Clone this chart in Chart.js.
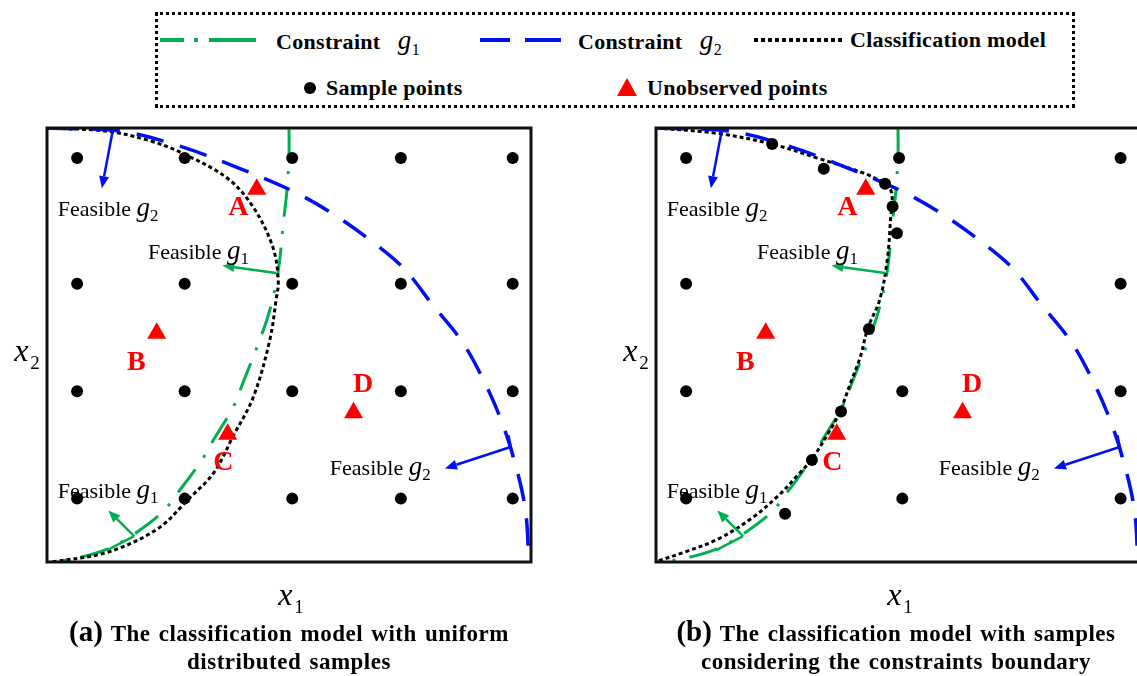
<!DOCTYPE html>
<html>
<head>
<meta charset="utf-8">
<script src="https://cdn.jsdelivr.net/npm/chart.js@4/dist/chart.umd.min.js"></script>
<style>
  html, body { margin: 0; padding: 0; background: #fff; }
  body { position: relative; width: 1137px; height: 676px; overflow: hidden;
         font-family: "Liberation Serif", "Times New Roman", serif; color: #000; }
  .abs { position: absolute; white-space: nowrap; }
  #legendBox { position: absolute; left: 155px; top: 12px; width: 914px; height: 90px;
               border: 3px dotted #000; }
  .lg { position: absolute; white-space: nowrap; font-weight: bold; font-size: 22px;
        letter-spacing: 0.3px; line-height: 1; transform: translateY(-50%); }
  .gi { font-style: italic; font-weight: normal; font-size: 27px; }
  .gs { font-weight: normal; font-size: 16px; position: relative; top: 6px; }
  canvas.panel { position: absolute; }
  .note { position: absolute; white-space: nowrap; font-size: 22px; line-height: 1;
          transform: translateY(-50%); }
  .note i { font-size: 27px; }
  .note sub { font-size: 17px; vertical-align: baseline; position: relative; top: 5px; }
  .tag { position: absolute; font-weight: bold; font-size: 28px; color: #f00; line-height: 1;
         transform: translate(-50%, -50%); }
  .axt { position: absolute; white-space: nowrap; line-height: 1; transform: translate(-50%, -50%); }
  .axt i { font-size: 32px; }
  .axt sub { font-size: 19px; vertical-align: baseline; position: relative; top: 8px; margin-left: 2px; }
  .cap { position: absolute; width: 620px; text-align: center; font-weight: bold; font-size: 23px;
         letter-spacing: 0.5px; word-spacing: 2px; line-height: 28px; }
  .cap .pl { font-size: 29px; letter-spacing: 0; }
</style>
</head>
<body>

<!-- legend -->
<div id="legendBox"></div>
<svg class="abs" style="left:0;top:0" width="1137" height="110">
  <g stroke="#00b050" stroke-width="4" fill="none">
    <line x1="160" y1="40" x2="184" y2="40"/>
    <line x1="194" y1="40" x2="198" y2="40"/>
    <line x1="209" y1="40" x2="256" y2="40"/>
  </g>
  <g stroke="#0010f0" stroke-width="4" fill="none">
    <line x1="480" y1="40" x2="510" y2="40"/>
    <line x1="525" y1="40" x2="561" y2="40"/>
  </g>
  <line x1="754" y1="40" x2="842" y2="40" stroke="#000" stroke-width="4" stroke-dasharray="4,3"/>
  <circle cx="310" cy="88" r="6" fill="#000"/>
  <polygon points="627,78 637,96 617,96" fill="#f00"/>
</svg>
<div class="lg" style="left:276px;top:40px">Constraint&nbsp;&nbsp;&nbsp;<span class="gi">g</span><span class="gs">1</span></div>
<div class="lg" style="left:578px;top:40px">Constraint&nbsp;&nbsp;&nbsp;<span class="gi">g</span><span class="gs">2</span></div>
<div class="lg" style="left:850px;top:40px">Classification model</div>
<div class="lg" style="left:326px;top:88px">Sample points</div>
<div class="lg" style="left:647px;top:88px">Unobserved points</div>

<canvas id="panelA" class="panel" width="506" height="456" style="left:36px;top:117px"></canvas>
<canvas id="panelB" class="panel" width="506" height="456" style="left:645px;top:117px"></canvas>
<div id="overlay" class="abs" style="left:0;top:0;width:1137px;height:676px"></div>

<!-- axis titles and captions -->
<div class="axt" style="left:27px;top:350px"><i>x</i><sub>2</sub></div>
<div class="axt" style="left:636px;top:350px"><i>x</i><sub>2</sub></div>
<div class="axt" style="left:291px;top:594px"><i>x</i><sub>1</sub></div>
<div class="axt" style="left:900px;top:594px"><i>x</i><sub>1</sub></div>
<div class="cap" style="left:-21px;top:617px"><span class="pl">(a)</span> The classification model with uniform<br>distributed samples</div>
<div class="cap" style="left:586px;top:617px"><span class="pl">(b)</span> The classification model with samples<br>considering the constraints boundary</div>

<script>
// ---- design space: x1 in [0, 4.5], x2 in [0, 4.04] ----
const x1Range = [0, 4.5];
const x2Range = [0, 4.04];

// constraint g1 boundary (dash-dot green)
const constraintG1 = [
  [2.25, 4.04], [2.25, 3.78], [2.23, 3.45], [2.20, 3.18], [2.15, 2.71], [2.07, 2.34],
  [1.96, 2.02], [1.83, 1.69], [1.73, 1.44], [1.55, 1.14], [1.44, 0.95], [1.22, 0.65],
  [1.07, 0.46], [0.78, 0.24], [0.56, 0.12], [0.25, 0.03], [0.02, 0.00]
];

// constraint g2 boundary (dashed blue)
const constraintG2 = [
  [0.00, 4.04], [0.69, 4.01], [1.27, 3.86], [1.80, 3.66], [2.29, 3.45], [2.66, 3.24],
  [3.00, 3.00], [3.32, 2.73], [3.58, 2.40], [3.86, 2.05], [4.06, 1.69], [4.23, 1.30],
  [4.36, 0.89], [4.45, 0.47], [4.48, 0.00]
];

// classification model fitted on the uniform design
const modelUniform = [
  [0.00, 4.04], [0.56, 4.01], [0.96, 3.92], [1.27, 3.80], [1.68, 3.57], [1.92, 3.30],
  [2.10, 2.93], [2.15, 2.62], [2.13, 2.44], [2.07, 2.06], [1.92, 1.54], [1.73, 1.17],
  [1.55, 0.83], [1.31, 0.58], [1.03, 0.31], [0.56, 0.09], [0.04, 0.00]
];

// classification model fitted on the boundary-aware design
const modelBoundary = [
  [0.00, 4.04], [0.57, 3.99], [1.08, 3.89], [1.50, 3.76], [1.93, 3.62], [2.11, 3.53],
  [2.19, 3.44], [2.18, 3.18], [2.15, 2.81], [2.08, 2.44], [1.97, 2.18], [1.90, 1.91],
  [1.81, 1.67], [1.71, 1.40], [1.62, 1.23], [1.45, 0.96], [1.31, 0.80], [1.13, 0.61],
  [0.88, 0.40], [0.57, 0.21], [0.26, 0.09], [0.02, 0.01]
];

// sample points
const samplesUniform = [
  [0.28, 3.76], [1.28, 3.76], [2.28, 3.76], [3.29, 3.76], [4.33, 3.76],
  [0.28, 2.59], [1.28, 2.59], [2.28, 2.59], [3.29, 2.59], [4.33, 2.59],
  [0.28, 1.59], [1.28, 1.59], [2.28, 1.59], [3.29, 1.59], [4.33, 1.59],
  [0.28, 0.59], [1.28, 0.59], [2.28, 0.59], [3.29, 0.59], [4.33, 0.59]
];
const samplesBoundary = [
  [0.28, 3.76], [2.26, 3.76], [4.32, 3.76],
  [0.28, 2.59], [4.32, 2.59],
  [0.28, 1.59], [2.29, 1.59], [4.32, 1.59],
  [0.28, 0.59], [2.29, 0.59], [4.32, 0.59],
  [1.08, 3.89], [1.56, 3.66], [2.13, 3.52], [2.20, 3.31], [2.24, 3.06],
  [1.98, 2.17], [1.72, 1.40], [1.45, 0.95], [1.20, 0.45]
];

// unobserved points and their names
const unobserved = [[1.95, 3.47], [1.02, 2.13], [1.68, 1.19], [2.85, 1.39]];
const unobservedNames = ['A', 'B', 'C', 'D'];
const nameSpots = [[1.78, 3.31], [0.83, 1.87], [1.64, 0.94], [2.94, 1.67]];

// "Feasible g" notes: constraint index and left-middle anchor
const feasibleNotes = [
  { g: '2', at: [0.10, 3.30] },
  { g: '1', at: [0.94, 2.90] },
  { g: '1', at: [0.10, 0.68] },
  { g: '2', at: [2.63, 0.89] }
];

// feasible-direction arrows: base tick, arrow from -> to
const feasibleArrows = [
  { color: '#0010f0', tick: null, from: [0.61, 4.01], to: [0.51, 3.48] },
  { color: '#00b050', tick: null, from: [2.13, 2.69], to: [1.63, 2.76] },
  { color: '#00b050', tick: [[0.56, 0.11], [0.81, 0.24]], from: [0.81, 0.24], to: [0.57, 0.48] },
  { color: '#0010f0', tick: [[4.29, 1.18], [4.33, 0.98]], from: [4.31, 1.07], to: [3.70, 0.87] }
];

const COLORS = { g1: '#00b050', g2: '#0010f0', model: '#000', sample: '#000', unobs: '#ff0000' };

const toXY = arr => arr.map(p => ({ x: p[0], y: p[1] }));

// frame and arrows, drawn in data space through the chart scales
const annotate = {
  id: 'annotate',
  afterDatasetsDraw(chart) {
    const { ctx, scales: { x, y } } = chart;
    const P = p => [x.getPixelForValue(p[0]), y.getPixelForValue(p[1])];
    ctx.save();
    ctx.lineCap = 'butt';
    feasibleArrows.forEach(ar => {
      ctx.strokeStyle = ar.color; ctx.fillStyle = ar.color; ctx.lineWidth = 2.5;
      if (ar.tick) {
        const [t0, t1] = ar.tick.map(P);
        ctx.beginPath(); ctx.moveTo(t0[0], t0[1]); ctx.lineTo(t1[0], t1[1]); ctx.stroke();
      }
      const [f, t] = [P(ar.from), P(ar.to)];
      const ang = Math.atan2(t[1] - f[1], t[0] - f[0]);
      const hl = 12, hw = 5;
      const bx = t[0] - Math.cos(ang) * hl, by = t[1] - Math.sin(ang) * hl;
      ctx.beginPath(); ctx.moveTo(f[0], f[1]); ctx.lineTo(bx, by); ctx.stroke();
      ctx.beginPath();
      ctx.moveTo(t[0], t[1]);
      ctx.lineTo(bx + Math.sin(ang) * hw, by - Math.cos(ang) * hw);
      ctx.lineTo(bx - Math.sin(ang) * hw, by + Math.cos(ang) * hw);
      ctx.closePath(); ctx.fill();
    });
    ctx.restore();
  },
  afterDraw(chart) {
    const { ctx, chartArea: a } = chart;
    ctx.save();
    ctx.strokeStyle = '#111'; ctx.lineWidth = 3;
    ctx.strokeRect(a.left, a.top, a.right - a.left, a.bottom - a.top);
    ctx.restore();
  }
};

function buildPanel(id, model, samples) {
  const lineDs = (label, data, color, dash, width) => ({
    label, data: toXY(data), showLine: true, borderColor: color, borderWidth: width,
    borderDash: dash, pointRadius: 0, tension: 0.35, fill: false, borderCapStyle: 'butt'
  });
  return new Chart(document.getElementById(id), {
    type: 'scatter',
    data: {
      datasets: [
        { label: 'Unobserved points', data: toXY(unobserved), pointStyle: 'triangle',
          pointRadius: 11, backgroundColor: COLORS.unobs, borderWidth: 0 },
        { label: 'Sample points', data: toXY(samples), pointStyle: 'circle',
          pointRadius: 6, backgroundColor: COLORS.sample, borderWidth: 0 },
        lineDs('Constraint g2', constraintG2, COLORS.g2, [28, 17], 3.5),
        lineDs('Classification model', model, COLORS.model, [4, 3], 3),
        lineDs('Constraint g1', constraintG1, COLORS.g1, [29, 14, 3, 14], 3)
      ]
    },
    options: {
      responsive: false, animation: false, devicePixelRatio: 1,
      layout: { padding: 10 },
      plugins: { legend: { display: false }, tooltip: { enabled: false } },
      scales: {
        x: { type: 'linear', min: x1Range[0], max: x1Range[1], display: false },
        y: { type: 'linear', min: x2Range[0], max: x2Range[1], display: false }
      }
    },
    plugins: [annotate]
  });
}

const overlay = document.getElementById('overlay');
function addLabels(chart) {
  const cv = chart.canvas;
  const ox = parseFloat(cv.style.left), oy = parseFloat(cv.style.top);
  const { x, y } = chart.scales;
  const px = p => [ox + x.getPixelForValue(p[0]), oy + y.getPixelForValue(p[1])];
  feasibleNotes.forEach(n => {
    const [l, t] = px(n.at);
    const d = document.createElement('div');
    d.className = 'note';
    d.style.left = l + 'px'; d.style.top = t + 'px';
    d.innerHTML = 'Feasible <i>g</i><sub>' + n.g + '</sub>';
    overlay.appendChild(d);
  });
  unobservedNames.forEach((name, i) => {
    const [l, t] = px(nameSpots[i]);
    const d = document.createElement('div');
    d.className = 'tag';
    d.style.left = l + 'px'; d.style.top = t + 'px';
    d.textContent = name;
    overlay.appendChild(d);
  });
}

addLabels(buildPanel('panelA', modelUniform, samplesUniform));
addLabels(buildPanel('panelB', modelBoundary, samplesBoundary));
</script>
</body>
</html>
